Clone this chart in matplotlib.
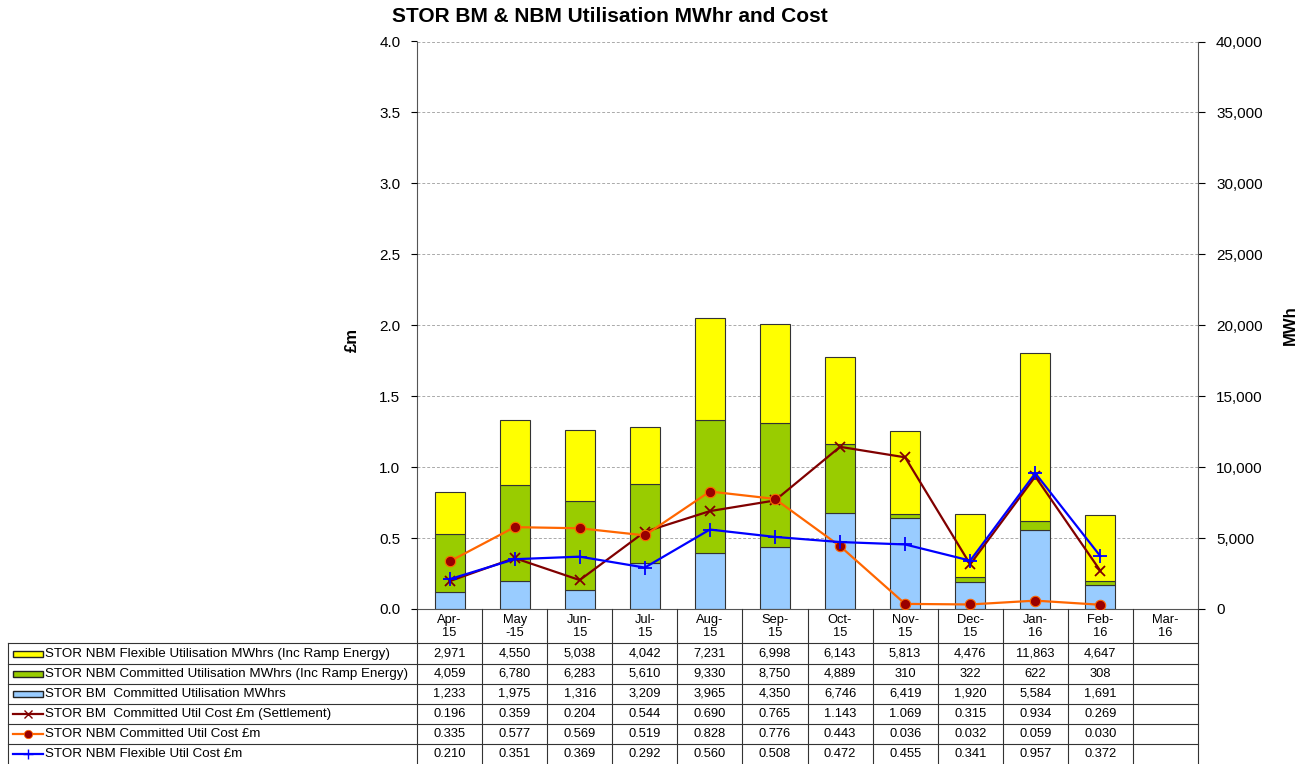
import matplotlib.pyplot as plt
from matplotlib.lines import Line2D
from matplotlib.patches import Rectangle
from matplotlib.transforms import blended_transform_factory
import numpy as np

plt.rcParams['font.family'] = ['Liberation Sans', 'DejaVu Sans']

months = ['Apr-\n15', 'May\n-15', 'Jun-\n15', 'Jul-\n15', 'Aug-\n15', 'Sep-\n15',
          'Oct-\n15', 'Nov-\n15', 'Dec-\n15', 'Jan-\n16', 'Feb-\n16', 'Mar-\n16']
nbm_flex_mwh = [2971, 4550, 5038, 4042, 7231, 6998, 6143, 5813, 4476, 11863, 4647]
nbm_comm_mwh = [4059, 6780, 6283, 5610, 9330, 8750, 4889, 310, 322, 622, 308]
bm_comm_mwh = [1233, 1975, 1316, 3209, 3965, 4350, 6746, 6419, 1920, 5584, 1691]
bm_cost = [0.196, 0.359, 0.204, 0.544, 0.690, 0.765, 1.143, 1.069, 0.315, 0.934, 0.269]
nbm_comm_cost = [0.335, 0.577, 0.569, 0.519, 0.828, 0.776, 0.443, 0.036, 0.032, 0.059, 0.030]
nbm_flex_cost = [0.210, 0.351, 0.369, 0.292, 0.560, 0.508, 0.472, 0.455, 0.341, 0.957, 0.372]

labels = ['STOR NBM Flexible Utilisation MWhrs (Inc Ramp Energy)',
          'STOR NBM Committed Utilisation MWhrs (Inc Ramp Energy)',
          'STOR BM  Committed Utilisation MWhrs',
          'STOR BM  Committed Util Cost £m (Settlement)',
          'STOR NBM Committed Util Cost £m',
          'STOR NBM Flexible Util Cost £m']

c_yellow, c_green, c_blue = '#FFFF00', '#99CC00', '#99CCFF'
c_bm, c_nbm, c_flex = '#800000', '#FF6600', '#0000FF'

W, H = 1311, 764
L, R, T, B = 417, 1198, 41.5, 609
fig = plt.figure(figsize=(W / 100, H / 100), dpi=100)


def yf(py):
    return 1 - py / H


ax = fig.add_axes([L / W, yf(B), (R - L) / W, (B - T) / H])
ax2 = ax.twinx()

x = np.arange(len(nbm_flex_mwh))
bm = np.array(bm_comm_mwh)
cm = np.array(nbm_comm_mwh)
fl = np.array(nbm_flex_mwh)
bw = 0.46
ax.bar(x, bm, width=bw, color=c_blue, edgecolor='#333333', lw=0.8)
ax.bar(x, cm, bottom=bm, width=bw, color=c_green, edgecolor='#333333', lw=0.8)
ax.bar(x, fl, bottom=bm + cm, width=bw, color=c_yellow, edgecolor='#333333', lw=0.8)
ax.set_xlim(-0.5, 11.5)
ax.set_ylim(0, 40000)
ax.set_xticks([])
ax.set_yticks(np.arange(0, 40001, 5000))
ax.set_yticklabels(['{:,}'.format(v) for v in range(0, 40001, 5000)])
ax.grid(axis='y', ls=(0, (3, 2)), color='#aaaaaa', lw=0.7)
ax.set_axisbelow(True)
ax.spines['top'].set_visible(False)
for s in ['left', 'right', 'bottom']:
    ax.spines[s].set_color('#555555')

ax2.plot(x, bm_cost, color=c_bm, lw=1.6, marker='x', ms=7, mew=1.3)
ax2.plot(x, nbm_comm_cost, color=c_nbm, lw=1.6, marker='o', ms=7.5,
         mfc='#990000', mec=c_nbm, mew=0.8)
ax2.plot(x, nbm_flex_cost, color=c_flex, lw=1.6, marker='+', ms=10, mew=1.3)
ax2.set_ylim(0, 4)
ax2.set_yticks(np.arange(0, 4.01, 0.5))
ax2.set_yticklabels(['%.1f' % v for v in np.arange(0, 4.01, 0.5)])
for s in ax2.spines.values():
    s.set_visible(False)

# bars (MWh) on the right axis, costs (£m) on the left axis
ax.yaxis.tick_right()
ax2.yaxis.tick_left()
ax.tick_params(axis='y', direction='out', length=5, labelsize=11, pad=8)
ax2.tick_params(axis='y', direction='out', length=4, labelsize=11, pad=8)

fig.text(610 / W, yf(17), 'STOR BM & NBM Utilisation MWhr and Cost',
         ha='center', va='center', fontsize=15, fontweight='bold')
fig.text(352 / W, yf(340), '£m', rotation=90, ha='center', va='center',
         fontsize=12, fontweight='bold')
fig.text(1290 / W, yf(325), 'MWh', rotation=90, ha='center', va='center',
         fontsize=12, fontweight='bold')

# Data table under the axis
trans = blended_transform_factory(ax.transData, fig.transFigure)
rows = [643, 664, 684, 704, 724, 744, 764]
lc = '#333333'
for k in range(13):
    fig.add_artist(Line2D([k - 0.5, k - 0.5], [yf(B), yf(rows[-1])],
                          transform=trans, color=lc, lw=0.8))
for py in rows[:-1]:
    fig.add_artist(Line2D([8 / W, R / W], [yf(py), yf(py)],
                          transform=fig.transFigure, color=lc, lw=0.8))
fig.add_artist(Line2D([8 / W, 8 / W], [yf(rows[0]), yf(rows[-1])],
                      transform=fig.transFigure, color=lc, lw=0.8))

for k, m in enumerate(months):
    fig.text(k, yf(626.5), m, transform=trans, ha='center', va='center',
             fontsize=9.3, linespacing=1.15)

series = [(nbm_flex_mwh, '{:,}'), (nbm_comm_mwh, '{:,}'), (bm_comm_mwh, '{:,}'),
          (bm_cost, '{:.3f}'), (nbm_comm_cost, '{:.3f}'), (nbm_flex_cost, '{:.3f}')]
for i, (vals, fmt) in enumerate(series):
    cy = yf((rows[i] + rows[i + 1]) / 2)
    for k, v in enumerate(vals):
        fig.text(k, cy, fmt.format(v), transform=trans, ha='center',
                 va='center', fontsize=9.3)
    fig.text(45 / W, cy, labels[i], ha='left', va='center', fontsize=9.6)

# legend keys in the table
patch_cols = [c_yellow, c_green, c_blue]
for i, col in enumerate(patch_cols):
    cy = (rows[i] + rows[i + 1]) / 2
    fig.add_artist(Rectangle((13 / W, yf(cy + 3)), 30 / W, 6 / H,
                             transform=fig.transFigure, facecolor=col,
                             edgecolor='#222222', lw=1.0))
line_styles = [dict(color=c_bm, marker='x', ms=6, mew=1.0),
               dict(color=c_nbm, marker='o', ms=6, mfc='#990000', mec=c_nbm, mew=0.6),
               dict(color=c_flex, marker='+', ms=7, mew=1.0)]
for j, st in enumerate(line_styles):
    i = j + 3
    cy = yf((rows[i] + rows[i + 1]) / 2)
    fig.add_artist(Line2D([13 / W, 43 / W], [cy, cy], transform=fig.transFigure,
                          lw=1.6, color=st['color']))
    fig.add_artist(Line2D([28 / W], [cy], transform=fig.transFigure, ls='none', **st))

fig.savefig('out.png', dpi=100)
